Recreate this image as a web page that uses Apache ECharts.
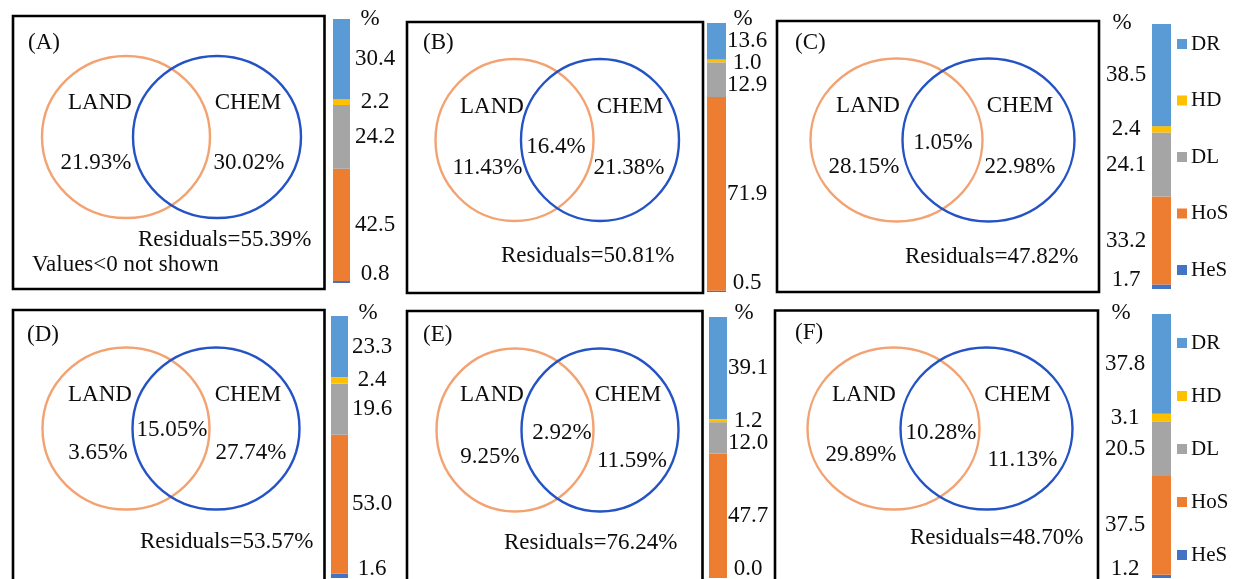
<!DOCTYPE html>
<html>
<head>
<meta charset="utf-8">
<script src="https://cdn.jsdelivr.net/npm/echarts@6/dist/echarts.min.js"></script>
<style>
  html, body { margin: 0; padding: 0; background: #fff; }
  #chart { width: 1233px; height: 579px; }
</style>
</head>
<body>
<div id="chart"></div>
<script>
// ---- data ----
const panelTags = ['(A)', '(B)', '(C)', '(D)', '(E)', '(F)'];
const components = ['DR', 'HD', 'DL', 'HoS', 'HeS'];          // top to bottom in each bar
const drValues  = [30.4, 13.6, 38.5, 23.3, 39.1, 37.8];
const hdValues  = [2.2, 1.0, 2.4, 2.4, 1.2, 3.1];
const dlValues  = [24.2, 12.9, 24.1, 19.6, 12.0, 20.5];
const hosValues = [42.5, 71.9, 33.2, 53.0, 47.7, 37.5];
const hesValues = [0.8, 0.5, 1.7, 1.6, 0.0, 1.2];
// variance partition (LAND only / shared / CHEM only / residuals), in %
const landOnly   = ['21.93', '11.43', '28.15', '3.65', '9.25', '29.89'];
const sharedPart = [null, '16.4', '1.05', '15.05', '2.92', '10.28'];
const chemOnly   = ['30.02', '21.38', '22.98', '27.74', '11.59', '11.13'];
const residuals  = ['55.39', '50.81', '47.82', '53.57', '76.24', '48.70'];

const seriesValues = { DR: drValues, HD: hdValues, DL: dlValues, HoS: hosValues, HeS: hesValues };
const colors = { DR: '#5B9BD5', HD: '#FFC000', DL: '#A5A5A5', HoS: '#ED7D31', HeS: '#4472C4' };

// ---- layout of each panel ----
const SERIF = '"Liberation Serif", "Times New Roman", serif';
const FONT = '23px ' + SERIF;
const TEXT = '#0d0d0d';
const ORANGE = '#F3A272';
const BLUE = '#2353C4';

const layout = [
  { box: [13, 16, 311.5, 273], bar: [333, 19, 17, 264], side: 'right', dist: 25, pct: [370, 19],
    venn: { cy: 137, l: 126, r: 217, rx: 84, ry: 81 },
    tag: [28, 43], land: [100, 103], chem: [248, 103], sh: null, lp: [96, 163], cp: [249, 163], res: [138, 240] },
  { box: [407, 22, 296, 271], bar: [707, 23, 19, 269], side: 'right', dist: 21, pct: [743, 19],
    venn: { cy: 140, l: 514.5, r: 600, rx: 79, ry: 81 },
    tag: [423, 43], land: [492, 107], chem: [630, 107], sh: [556, 147], lp: [487.5, 168], cp: [629, 168], res: [501, 256] },
  { box: [777, 21, 322, 271], bar: [1152, 24, 19, 265], side: 'left', dist: 26, pct: [1122, 23],
    venn: { cy: 140, l: 896.5, r: 988.5, rx: 86, ry: 81.5 },
    tag: [795, 43], land: [868, 106], chem: [1020, 106], sh: [943, 143], lp: [864, 167], cp: [1020, 167], res: [905, 257] },
  { box: [13, 310, 311.5, 280], bar: [331, 316, 17, 262], side: 'right', dist: 24, pct: [368, 313],
    venn: { cy: 428.5, l: 126, r: 216, rx: 83.5, ry: 81 },
    tag: [27, 335], land: [100, 395], chem: [248, 395], sh: [172, 430], lp: [98, 453], cp: [251, 453], res: [140, 542] },
  { box: [407, 311, 295.5, 280], bar: [709, 317, 18, 261], side: 'right', dist: 21, pct: [744, 313],
    venn: { cy: 430, l: 515, r: 600, rx: 78.5, ry: 81.5 },
    tag: [423, 335], land: [492, 395], chem: [628, 395], sh: [562, 433], lp: [490, 457], cp: [632, 461], res: [504, 543] },
  { box: [775, 310.5, 323, 280], bar: [1152, 314, 19, 264], side: 'left', dist: 27, pct: [1121, 313],
    venn: { cy: 428.5, l: 893.5, r: 986.5, rx: 86, ry: 81 },
    tag: [795, 333], land: [864, 395], chem: [1017.5, 395], sh: [941, 433], lp: [861, 455], cp: [1022.5, 460], res: [910, 538] }
];

// Spread the value labels of one stacked bar so they do not collide,
// returning the vertical offset of each label from its segment centre.
function labelOffsets(vals, total, top, h) {
  const k = h / total;
  let acc = 0;
  const centers = vals.map(v => { const c = top + (acc + v / 2) * k; acc += v; return c; });
  const gap = 22, hi = top + h - 9;
  const p = centers.slice();
  for (let j = 1; j < p.length; j++) p[j] = Math.max(p[j], p[j - 1] + gap);
  p[p.length - 1] = Math.min(p[p.length - 1], hi);
  for (let j = p.length - 2; j >= 0; j--) p[j] = Math.min(p[j], p[j + 1] - gap);
  return p.map((y, j) => y - centers[j]);
}

function text(str, x, y, align, font) {
  return {
    type: 'text', silent: true, z: 10,
    style: { text: str, x: x, y: y, font: font || FONT, fill: TEXT,
             align: align || 'center', verticalAlign: 'middle',
             textAlign: align || 'center', textVerticalAlign: 'middle' }
  };
}

const grids = [], xAxes = [], yAxes = [], series = [], graphics = [];

layout.forEach((L, i) => {
  const vals = components.map(c => seriesValues[c][i]);
  const total = vals.reduce((a, b) => a + b, 0);
  const offs = labelOffsets(vals, total, L.bar[1], L.bar[3]);

  grids.push({ left: L.bar[0], top: L.bar[1], width: L.bar[2], height: L.bar[3] });
  xAxes.push({ type: 'category', gridIndex: i, data: [''], show: false });
  yAxes.push({ type: 'value', gridIndex: i, min: 0, max: total, show: false });

  // stacked from the bottom: HeS, HoS, DL, HD, DR
  components.slice().reverse().forEach(name => {
    const j = components.indexOf(name);
    series.push({
      type: 'bar', name: name, stack: 'p' + i, xAxisIndex: i, yAxisIndex: i,
      barWidth: '100%', silent: true,
      itemStyle: { color: colors[name] },
      data: [seriesValues[name][i]],
      label: {
        show: true, position: L.side, distance: L.dist, align: 'center',
        offset: [0, offs[j]],
        fontFamily: SERIF, fontSize: 23, color: TEXT,
        formatter: p => p.value.toFixed(1)
      }
    });
  });

  // panel frame
  graphics.push({ type: 'rect', silent: true,
    shape: { x: L.box[0], y: L.box[1], width: L.box[2], height: L.box[3] },
    style: { fill: 'none', stroke: '#000', lineWidth: 2.6 } });

  // Venn circles
  const v = L.venn;
  graphics.push({ type: 'ellipse', silent: true, z: 5,
    shape: { cx: v.l, cy: v.cy, rx: v.rx, ry: v.ry },
    style: { fill: 'none', stroke: ORANGE, lineWidth: 2.4 } });
  graphics.push({ type: 'ellipse', silent: true, z: 6,
    shape: { cx: v.r, cy: v.cy, rx: v.rx, ry: v.ry },
    style: { fill: 'none', stroke: BLUE, lineWidth: 2.4 } });

  graphics.push(text(panelTags[i], L.tag[0], L.tag[1], 'left'));
  graphics.push(text('LAND', L.land[0], L.land[1]));
  graphics.push(text('CHEM', L.chem[0], L.chem[1]));
  if (sharedPart[i] !== null) graphics.push(text(sharedPart[i] + '%', L.sh[0], L.sh[1]));
  graphics.push(text(landOnly[i] + '%', L.lp[0], L.lp[1]));
  graphics.push(text(chemOnly[i] + '%', L.cp[0], L.cp[1]));
  graphics.push(text('Residuals=' + residuals[i] + '%', L.res[0], L.res[1], 'left'));
  graphics.push(text('%', L.pct[0], L.pct[1]));
});

graphics.push(text('Values<0 not shown', 32, 265, 'left'));

const legendBase = {
  orient: 'vertical', left: 1177, padding: 0, icon: 'rect', itemWidth: 10, itemHeight: 10,
  selectedMode: false, data: components,
  textStyle: { fontFamily: SERIF, fontSize: 21, color: TEXT, lineHeight: 21, padding: [0, 0, 0, -1] }
};

const chart = echarts.init(document.getElementById('chart'), null, { renderer: 'canvas' });
chart.setOption({
  animation: false,
  backgroundColor: '#fff',
  grid: grids,
  xAxis: xAxes,
  yAxis: yAxes,
  legend: [
    Object.assign({}, legendBase, { top: 33.5, itemGap: 35.5 }),
    Object.assign({}, legendBase, { top: 332.5, itemGap: 32 })
  ],
  series: series,
  graphic: graphics
});
</script>
</body>
</html>
